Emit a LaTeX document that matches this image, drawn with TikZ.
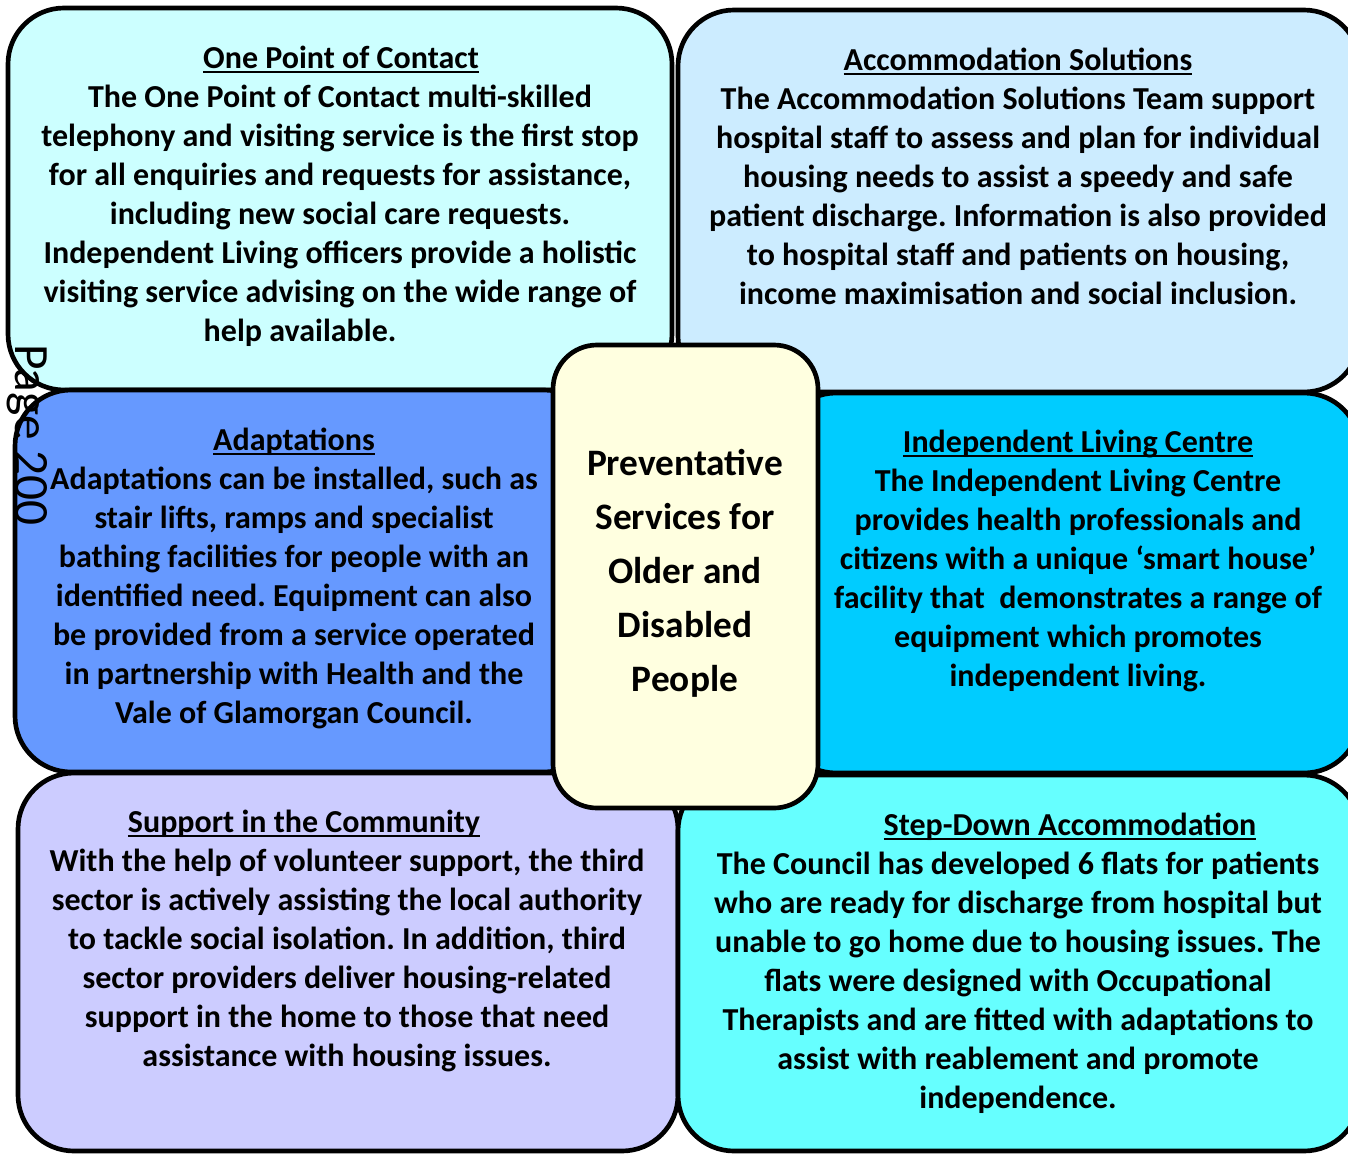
\documentclass[tikz,border=0pt]{standalone}
\usepackage{fontspec}
\setmainfont{Carlito}
\definecolor{cOne}{HTML}{CCFFFF}
\definecolor{cAcc}{HTML}{CCECFF}
\definecolor{cAda}{HTML}{6699FF}
\definecolor{cILC}{HTML}{00CCFF}
\definecolor{cSup}{HTML}{CCCCFF}
\definecolor{cStep}{HTML}{66FFFF}
\definecolor{cMid}{HTML}{FFFFE0}
\tikzset{
  panel/.style={draw=black, line width=3.5pt, rounded corners=42pt},
  body/.style={align=center, inner sep=0pt, anchor=base, font=\bfseries\fontsize{24}{29.25}\selectfont},
  ttl/.style={inner sep=0pt, anchor=base, font=\bfseries\fontsize{24}{29.25}\selectfont},
  mid/.style={align=center, inner sep=0pt, anchor=base, font=\bfseries\fontsize{28}{40.5}\selectfont},
}
\newcommand{\ttlul}[1]{\leavevmode\setbox0\hbox{#1}\rlap{\rule[-3.6pt]{\wd0}{1.7pt}}\box0}
\frenchspacing
\begin{document}
\begin{tikzpicture}[x=0.75pt,y=-0.75pt]
\useasboundingbox (0,0) rectangle (1348,1153);
\begin{scope}
\clip (0,0) rectangle (1348,1153);
\path[panel, fill=cOne] (8,8) rectangle (672,390);
\path[panel, fill=cAcc] (678,10) rectangle (1360,392);
\path[panel, fill=cAda] (15,390) rectangle (600,772);
\path[panel, fill=cILC] (780,393) rectangle (1360,773);
\path[panel, fill=cSup] (18,773) rectangle (678,1151);
\path[panel, fill=cStep] (678,775) rectangle (1360,1151);
\path[panel, fill=cMid, rounded corners=33pt] (553,345) rectangle (818,808);
\end{scope}

\node[ttl] (t1) at (341,68) {\ttlul{One Point of Contact}};
\node[body] (b1) at (340,341) {The One Point of Contact multi-skilled\\
telephony and visiting service is the first stop\\
for all enquiries and requests for assistance,\\
including new social care requests.\\
Independent Living officers provide a holistic\\
visiting service advising on the wide range of\\
help available.\hspace*{60pt}};

\node[ttl] (t2) at (1018,70) {\ttlul{Accommodation Solutions}};
\node[body] (b2) at (1018,304) {The Accommodation Solutions Team support\\
hospital staff to assess and plan for individual\\
housing needs to assist a speedy and safe\\
patient discharge. Information is also provided\\
to hospital staff and patients on housing,\\
income maximisation and social inclusion.};

\node[ttl] (t3) at (294,450) {\ttlul{Adaptations}};
\node[body] (b3) at (294,723) {Adaptations can be installed, such as\\
stair lifts, ramps and specialist\\
bathing facilities for people with an\\
identified need. Equipment can also\\
be provided from a service operated\\
in partnership with Health and the\\
Vale of Glamorgan Council.};

\node[ttl] (t4) at (1078,452) {\ttlul{Independent Living Centre}};
\node[body] (b4) at (1078,686) {The Independent Living Centre\\
provides health professionals and\\
citizens with a unique ‘smart house’\\
facility that~ demonstrates a range of\\
equipment which promotes\\
independent living.};

\node[ttl] (t5) at (304,832) {\ttlul{Support in the Community}};
\node[body] (b5) at (347,1066) {With the help of volunteer support, the third\\
sector is actively assisting the local authority\\
to tackle social isolation. In addition, third\\
sector providers deliver housing-related\\
support in the home to those that need\\
assistance with housing issues.};

\node[ttl] (t6) at (1070,835) {\ttlul{Step-Down Accommodation}};
\node[body] (b6) at (1018,1108) {The Council has developed 6 flats for patients\\
who are ready for discharge from hospital but\\
unable to go home due to housing issues. The\\
flats were designed with Occupational\\
Therapists and are fitted with adaptations to\\
assist with reablement and promote\\
independence.};

\node[mid] (m) at (685,691) {Preventative\\Services for\\Older and\\Disabled\\People};

\node[rotate=-90, inner sep=0pt, font=\fontsize{37}{40}\selectfont] (pg) at (27,435) {Page 200};
\end{tikzpicture}
\end{document}
